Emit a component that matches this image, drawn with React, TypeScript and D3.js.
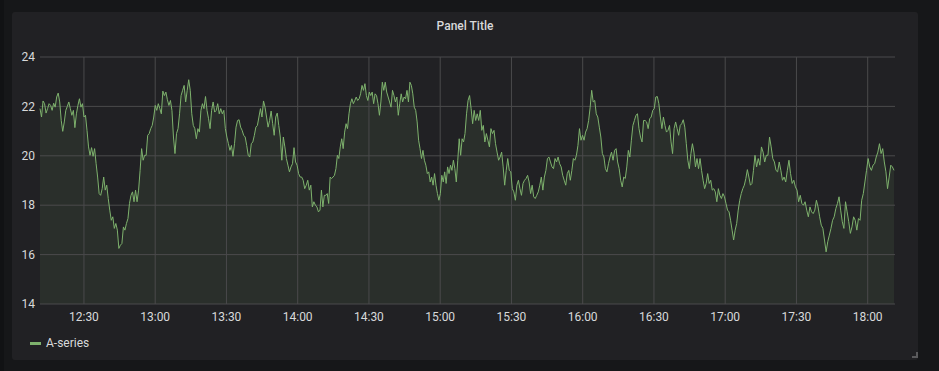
import React from "react";
import * as d3 from "d3";

const W = 939;
const H = 371;

const title = "Panel Title";
const seriesName = "A-series";
const yTicks = [14, 16, 18, 20, 22, 24];
const timeStart = "12:11:30";
const timeEnd = "18:11:30";
const segStarts = ["12:11:30", "13:08:20", "14:09:23", "15:10:27", "16:11:30", "17:12:33"];
const lastPointTime = "18:11:05";

const seg1 = [21.91, 21.57, 22.22, 22.11, 21.73, 21.91, 22.11, 22.04, 21.84, 22.13, 21.97, 22.38, 22.54, 22.18, 21.43, 20.99, 21.37, 21.84, 22.0, 22.18, 21.91, 21.64, 21.84, 21.14, 21.7, 22.04, 22.31, 21.97, 22.11, 21.57, 21.64, 21.03, 20.36, 20.02, 20.33, 19.98, 20.29, 19.68, 19.14, 18.47, 18.4, 18.67, 19.14, 18.61, 18.81, 18.27, 17.8, 17.39, 17.53, 17.06, 17.26, 16.99, 16.25, 16.38, 16.45, 17.12, 16.99, 17.26, 17.46, 18.07, 18.4, 18.54, 18.14, 18.61, 18.14, 18.61, 19.41, 20.29, 19.82, 20.02, 20.02, 20.83, 20.9, 21.1, 21.23, 21.57, 22.04, 21.84, 22.11, 21.91, 21.7, 22.62, 22.44, 22.58, 22.27, 22.04, 22.24, 21.84, 20.76];
const seg2 = [20.09, 20.9, 21.1, 21.7, 22.44, 22.65, 22.85, 22.18, 22.65, 23.08, 22.65, 21.7, 21.23, 21.1, 20.69, 21.1, 20.96, 21.84, 22.11, 21.91, 22.4, 21.84, 21.5, 21.1, 21.84, 22.18, 21.77, 21.84, 22.11, 21.7, 21.91, 21.7, 21.84, 21.1, 20.76, 20.49, 20.22, 20.42, 19.98, 20.49, 21.16, 21.43, 21.46, 21.16, 21.03, 20.83, 20.76, 20.42, 20.02, 19.95, 20.49, 20.56, 20.83, 21.16, 21.23, 21.57, 21.91, 21.57, 22.22, 21.97, 21.57, 21.16, 21.43, 21.81, 21.3, 20.83, 21.57, 21.73, 21.23, 20.76, 19.82, 20.76, 20.36, 19.89, 19.62, 19.35, 19.55, 19.68, 20.33, 19.75, 19.62, 19.28, 19.14, 19.14, 19.01, 18.67, 18.81, 19.01, 18.61, 18.81, 17.93, 18.14, 18.0, 17.93, 17.73];
const seg3 = [17.8, 18.61, 17.93, 18.4, 18.4, 18.47, 18.07, 19.14, 19.08, 19.14, 19.21, 19.48, 20.02, 19.89, 20.36, 20.69, 20.29, 20.96, 21.3, 21.1, 21.7, 22.11, 22.31, 22.11, 22.24, 22.38, 22.24, 22.31, 22.51, 22.85, 22.65, 22.92, 22.44, 22.24, 22.58, 22.44, 22.58, 22.11, 22.51, 22.44, 22.11, 21.64, 22.18, 22.98, 22.65, 22.98, 22.58, 22.38, 22.18, 21.97, 22.65, 22.44, 22.18, 22.38, 21.64, 22.11, 22.51, 22.18, 22.38, 22.31, 22.65, 22.18, 22.98, 22.85, 22.51, 21.97, 21.84, 21.37, 20.63, 20.29, 19.89, 20.22, 19.82, 19.62, 19.28, 19.35, 18.94, 19.14, 18.81, 19.28, 18.81, 18.47, 18.2, 18.47, 19.21, 18.94, 19.35, 18.88, 19.55, 19.28, 19.62, 19.41, 19.82, 19.48, 18.94, 19.82, 20.69, 20.02, 20.69, 20.56];
const seg4 = [20.9, 21.7, 22.24, 22.44, 21.91, 21.3, 21.84, 21.43, 21.7, 21.43, 21.84, 21.03, 21.23, 20.56, 20.9, 20.63, 20.36, 21.1, 20.9, 21.03, 20.49, 20.15, 19.82, 19.95, 20.15, 19.55, 18.81, 19.41, 19.89, 19.41, 19.35, 18.67, 18.54, 18.2, 18.81, 19.01, 18.67, 18.4, 18.88, 19.01, 19.08, 19.21, 18.94, 18.47, 18.81, 18.34, 18.27, 18.4, 18.54, 18.81, 19.14, 18.61, 19.14, 19.41, 19.89, 19.95, 19.75, 19.55, 19.48, 19.89, 19.75, 19.95, 19.68, 19.55, 19.21, 19.01, 18.81, 19.28, 19.41, 19.01, 19.41, 19.89, 19.82, 20.02, 20.42, 21.1, 20.63, 20.83, 20.63, 20.96, 21.1, 21.43, 21.97, 22.65, 22.18, 22.24, 21.7, 21.57, 21.16, 20.76, 20.09, 19.95, 19.48, 19.35, 19.68];
const seg5 = [19.95, 20.15, 19.82, 20.22, 20.29, 19.75, 19.48, 19.01, 18.74, 19.14, 19.08, 19.55, 20.22, 19.95, 20.63, 21.23, 21.43, 21.64, 21.7, 21.1, 20.76, 20.56, 21.43, 21.43, 21.37, 21.1, 21.5, 21.57, 21.84, 21.91, 22.38, 22.4, 22.11, 21.57, 21.1, 21.57, 21.23, 20.96, 21.03, 21.23, 20.56, 20.09, 21.1, 21.37, 21.1, 20.83, 21.23, 21.3, 21.46, 21.16, 20.49, 19.82, 19.48, 20.09, 20.49, 20.15, 19.55, 19.89, 19.48, 19.89, 19.41, 19.01, 18.67, 18.88, 19.28, 18.88, 19.01, 18.61, 18.67, 18.54, 18.14, 18.67, 18.4, 18.27, 18.47, 18.34, 18.07, 17.8, 17.73, 17.39, 16.99, 16.59, 16.99, 17.26, 17.8, 18.2, 18.47, 18.67, 18.81, 19.08, 19.44, 19.14, 18.81, 18.88, 19.41];
const seg6 = [20.02, 19.55, 19.89, 19.62, 20.36, 20.15, 19.75, 20.02, 20.02, 20.76, 20.36, 19.89, 19.75, 19.41, 19.35, 19.75, 19.41, 19.01, 19.14, 18.94, 19.41, 19.82, 19.28, 18.88, 19.01, 18.74, 18.61, 18.14, 18.4, 18.07, 18.0, 18.14, 17.8, 17.53, 17.93, 17.73, 17.66, 17.8, 18.2, 17.93, 17.53, 17.19, 17.06, 16.59, 16.11, 16.52, 16.79, 17.06, 17.39, 17.53, 17.86, 18.07, 18.34, 17.8, 17.33, 17.06, 18.14, 17.73, 17.33, 16.86, 17.12, 17.53, 17.39, 16.99, 17.46, 17.39, 18.2, 18.47, 18.94, 19.41, 19.89, 19.55, 19.41, 19.62, 19.68, 19.95, 20.15, 20.49, 20.09, 20.29, 19.75, 19.35, 18.67, 19.14, 19.62, 19.55, 19.41];

const segments = [seg1, seg2, seg3, seg4, seg5, seg6];

const parseT = (s: string) => {
  const [h, m, sec] = s.split(":").map(Number);
  return new Date(2020, 0, 1, h, m, sec);
};

type Pt = { t: Date; v: number };

function buildData(): Pt[] {
  const out: Pt[] = [];
  segments.forEach((seg, k) => {
    const start = parseT(segStarts[k]).getTime();
    const isLast = k === segments.length - 1;
    const end = isLast ? parseT(lastPointTime).getTime() : parseT(segStarts[k + 1]).getTime();
    const n = isLast ? seg.length - 1 : seg.length;
    seg.forEach((v, i) => {
      out.push({ t: new Date(start + ((end - start) * i) / n), v });
    });
  });
  return out;
}

export default function App() {
  const data = buildData();
  const plotL = 40;
  const plotR = 895;
  const plotT = 57;
  const plotB = 304;

  const x = d3.scaleTime().domain([parseT(timeStart), parseT(timeEnd)]).range([plotL, plotR]);
  const y = d3.scaleLinear().domain([14, 24]).range([plotB, plotT]);
  const xTicks = x.ticks(d3.timeMinute.every(30) as any);
  const fmt = d3.timeFormat("%H:%M");

  const line = d3
    .line<Pt>()
    .x((d) => x(d.t))
    .y((d) => y(d.v));
  const area = d3
    .area<Pt>()
    .x((d) => x(d.t))
    .y0(plotB)
    .y1((d) => y(d.v));

  const font = "Roboto, 'Helvetica Neue', Arial, sans-serif";
  const textColor = "#d8d9da";
  const gridColor = "#4a4a4c";

  return (
    <svg
      width={W}
      height={H}
      style={{ position: "fixed", left: 0, top: 0, display: "block" }}
      fontFamily={font}
    >
      <rect x={0} y={0} width={W} height={H} fill="#161719" />
      <rect x={0} y={0} width={4} height={H} fill="#111214" />
      <rect x={12} y={12} width={906} height={348} rx={3} fill="#212124" />
      <text
        x={465}
        y={30}
        textAnchor="middle"
        fill={textColor}
        fontSize={12}
        fontWeight={500}
      >
        {title}
      </text>
      <path d={area(data) || ""} fill="#7eb26d" fillOpacity={0.1} />
      {yTicks.map((t) => (
        <g key={"y" + t}>
          <line x1={plotL} x2={plotR} y1={y(t)} y2={y(t)} stroke={gridColor} strokeWidth={1} />
          <text x={35} y={y(t)} dy="0.35em" textAnchor="end" fill={textColor} fontSize={12}>
            {t}
          </text>
        </g>
      ))}
      {xTicks.map((t, i) => (
        <g key={"x" + i}>
          <line x1={x(t)} x2={x(t)} y1={plotT} y2={plotB} stroke={gridColor} strokeWidth={1} />
          <text x={x(t)} y={317} dy="0.35em" textAnchor="middle" fill={textColor} fontSize={12}>
            {fmt(t)}
          </text>
        </g>
      ))}
      <path d={line(data) || ""} fill="none" stroke="#7eb26d" strokeWidth={1} />
      <rect x={30} y={342} width={11} height={3} fill="#7eb26d" />
      <text x={46} y={343} dy="0.35em" fill={textColor} fontSize={12}>
        {seriesName}
      </text>
      <path d="M912,357 L917,357 L917,352" fill="none" stroke="#5a5a5c" strokeWidth={2} />
    </svg>
  );
}
